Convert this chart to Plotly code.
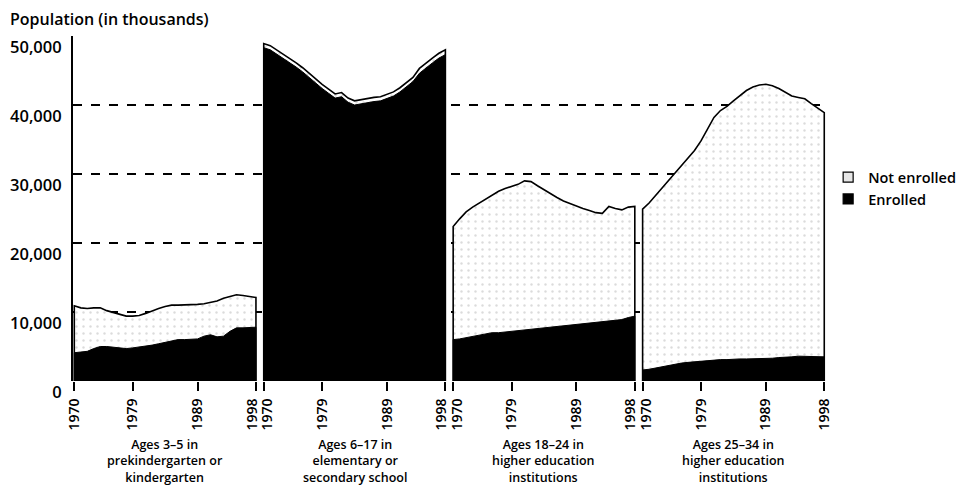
import plotly.graph_objects as go

# values, in thousands -> stored as thousands*1000 for the axis
years = list(range(1970, 1999))

total_3_5 = [10.9, 10.6, 10.5, 10.6, 10.6, 10.2, 9.9, 9.6, 9.4, 9.4, 9.5, 9.8, 10.2, 10.5, 10.8,
             11.0, 11.0, 11.0, 11.1, 11.1, 11.2, 11.4, 11.6, 12.0, 12.3, 12.5, 12.4, 12.2, 12.1]
enrolled_3_5 = [4.1, 4.2, 4.3, 4.7, 5.0, 5.0, 4.9, 4.8, 4.7, 4.8, 4.9, 5.0, 5.2, 5.4, 5.6,
                5.9, 6.0, 6.0, 6.0, 6.1, 6.5, 6.7, 6.4, 6.5, 7.2, 7.7, 7.7, 7.8, 7.8]

total_6_17 = [48.9, 48.6, 48.0, 47.4, 46.8, 46.1, 45.4, 44.6, 43.7, 43.0, 42.3, 41.6, 41.8, 41.0, 40.6,
              40.8, 41.0, 41.1, 41.2, 41.5, 41.9, 42.5, 43.2, 44.0, 45.3, 46.1, 46.8, 47.5, 48.0]
enrolled_6_17 = [48.3, 48.0, 47.4, 46.8, 46.2, 45.5, 44.8, 44.0, 43.1, 42.4, 41.7, 41.0, 41.2, 40.4, 40.0,
                 40.2, 40.4, 40.5, 40.6, 40.9, 41.3, 41.9, 42.6, 43.4, 44.6, 45.4, 46.1, 46.8, 47.3]

total_18_24 = [22.4, 23.5, 24.5, 25.2, 25.8, 26.4, 27.0, 27.5, 27.9, 28.2, 28.5, 29.0, 28.9, 28.3, 27.7,
               27.1, 26.6, 26.1, 25.7, 25.3, 25.0, 24.7, 24.4, 24.3, 25.3, 25.0, 24.8, 25.2, 25.3]
enrolled_18_24 = [6.0, 6.1, 6.3, 6.4, 6.6, 6.9, 7.0, 7.0, 7.1, 7.2, 7.3, 7.4, 7.5, 7.6, 7.6,
                  7.7, 7.8, 7.9, 8.0, 8.1, 8.2, 8.4, 8.5, 8.6, 8.7, 8.8, 8.9, 9.2, 9.4]

total_25_34 = [24.9, 25.8, 26.9, 27.9, 29.0, 30.2, 31.3, 32.3, 33.4, 34.8, 36.4, 38.2, 39.2, 39.8, 40.6,
               41.4, 42.1, 42.6, 42.9, 43.0, 42.8, 42.4, 41.8, 41.3, 41.1, 40.9, 40.2, 39.5, 38.9]
enrolled_25_34 = [1.6, 1.7, 1.9, 2.1, 2.3, 2.5, 2.6, 2.7, 2.8, 2.8, 2.9, 3.0, 3.1, 3.1, 3.2,
                  3.2, 3.2, 3.2, 3.2, 3.3, 3.3, 3.4, 3.4, 3.5, 3.6, 3.6, 3.5, 3.5, 3.5]

panel_labels = ["Ages 3\u20135 in<br>prekindergarten or<br>kindergarten",
                "Ages 6\u201317 in<br>elementary or<br>secondary school",
                "Ages 18\u201324 in<br>higher education<br>institutions",
                "Ages 25\u201334 in<br>higher education<br>institutions"]
tick_years = [1970, 1979, 1989, 1998]

panels = [(total_3_5, enrolled_3_5), (total_6_17, enrolled_6_17),
          (total_18_24, enrolled_18_24), (total_25_34, enrolled_25_34)]

STEP = 29.2    # years per panel incl. the small gap
NUDGE = 0.6    # pushes the 1998/1970 labels apart at the panel joins
FONT = "Open Sans"
XRANGE = [-0.2, 3 * STEP + 28 + 0.6]

fig = go.Figure()
tickvals, ticktext, labelvals = [], [], []
for k, (tot, enr) in enumerate(panels):
    xs = [y - 1970 + k * STEP for y in years]
    tot_k = [v * 1000 for v in tot]
    enr_k = [v * 1000 for v in enr]
    fig.add_trace(go.Scatter(
        x=[xs[0]] + xs + [xs[-1]], y=[0] + tot_k + [0],
        fill="toself", mode="lines", name="Not enrolled",
        line=dict(color="black", width=1.6),
        fillcolor="white",
        fillpattern=dict(shape=".", fgcolor="#b8b8b8", bgcolor="white", size=7, solidity=0.1),
        showlegend=False, hoverinfo="skip"))
    fig.add_trace(go.Scatter(
        x=[xs[0]] + xs + [xs[-1]], y=[0] + enr_k + [0],
        fill="toself", mode="lines", name="Enrolled",
        line=dict(color="black", width=1),
        fillcolor="black",
        showlegend=False, hoverinfo="skip"))
    for t in tick_years:
        pos = t - 1970 + k * STEP
        tickvals.append(pos)
        ticktext.append(str(t))
        if t == 1970 and k > 0:
            pos += NUDGE
        elif t == 1998 and k < 3:
            pos -= NUDGE
        labelvals.append(pos)
    fig.add_annotation(x=(xs[0] + xs[-1]) / 2, xref="x", y=-0.155, yref="paper",
                       text=panel_labels[k], showarrow=False, yanchor="top", xanchor="center",
                       font=dict(family=FONT, size=12.5, color="black", weight=600))

# legend entries (also carry the year-label axis x2)
fig.add_trace(go.Scatter(x=[None], y=[None], mode="markers", name="Not enrolled", xaxis="x2",
                         marker=dict(symbol="square", size=10, color="#e6e6e6",
                                     line=dict(color="black", width=1.2))))
fig.add_trace(go.Scatter(x=[None], y=[None], mode="markers", name="Enrolled", xaxis="x2",
                         marker=dict(symbol="square", size=10, color="black",
                                     line=dict(color="black", width=1.2))))

fig.add_annotation(x=-0.0856, xref="paper", y=1.05, yref="paper", text="Population (in thousands)",
                   showarrow=False, xanchor="left", yanchor="middle",
                   font=dict(family=FONT, size=16, color="black", weight=600))

# the page adds an 8px body margin, so the figure is sized to fit the window
fig.update_layout(
    width=957, height=477,
    margin=dict(l=65, r=133, t=28, b=104),
    paper_bgcolor="white", plot_bgcolor="white",
    font=dict(family=FONT, color="black", weight=600),
    legend=dict(xref="container", yref="container", x=0.857, y=0.679,
                xanchor="left", yanchor="top",
                font=dict(family=FONT, size=14.5, color="black", weight=600),
                itemwidth=30, tracegroupgap=0, bgcolor="rgba(0,0,0,0)"),
    xaxis=dict(range=XRANGE, tickvals=tickvals, ticktext=ticktext,
               showticklabels=False, ticks="outside", ticklen=9, tickwidth=2, tickcolor="black",
               showgrid=False, zeroline=False, showline=False, automargin=False),
    xaxis2=dict(range=XRANGE, overlaying="x", anchor="y", side="bottom",
                tickvals=labelvals, ticktext=ticktext, tickangle=-90, ticks="outside",
                ticklen=11, tickcolor="rgba(0,0,0,0)", showgrid=False, zeroline=False,
                showline=False, automargin=False,
                tickfont=dict(family=FONT, size=14, color="black", weight=600)),
    yaxis=dict(range=[0, 50000], tickvals=[0, 10000, 20000, 30000, 40000, 50000],
               ticktext=["0", "10,000", "20,000", "30,000", "40,000", "50,000"],
               showgrid=True, gridcolor="black", griddash="dash", gridwidth=1.5,
               showline=True, linecolor="black", linewidth=2, zeroline=False,
               ticks="", ticklabelstandoff=6, ticklabelposition="outside bottom",
               automargin=False,
               tickfont=dict(family=FONT, size=16.5, color="black", weight=600)),
)

fig.write_html("out.html")
